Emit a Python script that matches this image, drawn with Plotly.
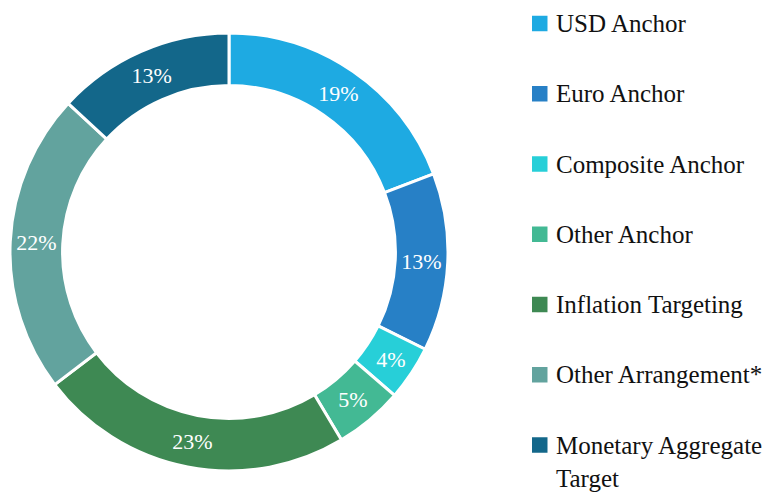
import plotly.graph_objects as go

labels = ["USD Anchor", "Euro Anchor", "Composite Anchor", "Other Anchor",
          "Inflation Targeting", "Other Arrangement*", "Monetary Aggregate<br>Target"]
values = [19, 13, 4, 5, 23, 22, 13]
colors = ["#1eaae2", "#2780c6", "#27cfd8", "#43b994", "#3e8953", "#62a39e", "#13678a"]

W, H = 763, 495
fig = go.Figure()
fig.add_trace(go.Pie(
    labels=labels, values=values, hole=0.76, sort=False, direction="clockwise",
    rotation=0, showlegend=False,
    marker=dict(colors=colors, line=dict(color="white", width=3)),
    texttemplate="%{value}%", textposition="inside", insidetextorientation="horizontal",
    textfont=dict(family="Liberation Serif", size=22, color="white"),
    domain=dict(x=[10/W, 448/W], y=[1-472/H, 1-32/H]),
    hoverinfo="label+value",
))

# legend drawn as shapes + annotations (layout positions in pixels)
leg_top, leg_step = 23.5, 70.25
sq, sq_x, txt_x = 15.5, 532, 554
for i, (lab, col) in enumerate(zip(labels, colors)):
    cy = leg_top + i * leg_step
    fig.add_shape(type="rect", xref="paper", yref="paper",
                  x0=sq_x/W, x1=(sq_x+sq)/W, y0=1-(cy+sq/2)/H, y1=1-(cy-sq/2)/H,
                  fillcolor=col, line=dict(width=0))
    nlines = lab.count("<br>") + 1
    ty = cy + (nlines - 1) * 17
    fig.add_annotation(xref="paper", yref="paper", x=txt_x/W, y=1-ty/H,
                       xanchor="left", yanchor="middle", align="left",
                       text=lab, showarrow=False,
                       font=dict(family="Liberation Serif", size=25, color="#111"))

fig.update_layout(
    width=W, height=H, margin=dict(l=0, r=0, t=0, b=0),
    paper_bgcolor="white", plot_bgcolor="white", showlegend=False,
)
fig.write_html("out.html", config={"displayModeBar": False},
               post_script="document.body.style.margin='0';")
